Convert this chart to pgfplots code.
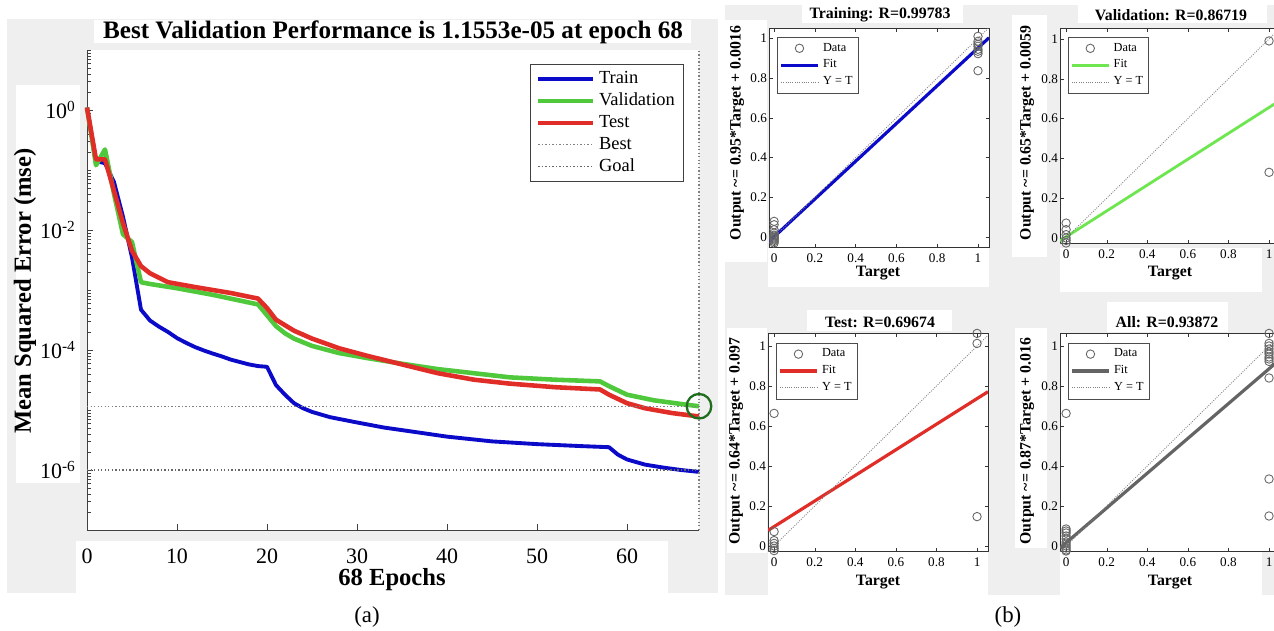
\documentclass[border=0pt]{standalone}
\usepackage{fontspec}
\setmainfont{Liberation Serif}
\usepackage{pgfplots}
\pgfplotsset{compat=1.18}

\definecolor{bgray}{RGB}{239,239,239}
\definecolor{trainblue}{RGB}{10,10,200}
\definecolor{valgreen}{RGB}{80,200,60}
\definecolor{testred}{RGB}{225,45,40}
\definecolor{bestgreen}{RGB}{30,110,30}
\definecolor{fitgreen}{RGB}{110,230,80}
\definecolor{fitgray}{RGB}{100,100,100}

\pgfplotsset{
  regstyle/.style={
    scale only axis, width=4.4cm,
    tick align=inside, major tick length=0.07cm,
    xtick={0,0.2,0.4,0.6,0.8,1}, ytick={0,0.2,0.4,0.6,0.8,1},
    tick label style={font=\fontsize{7.5}{8}\selectfont},
    /pgf/number format/assume math mode=true,
    axis line style={black!80}, tick style={black!80},
    xticklabel style={inner sep=1pt, yshift=-2.5pt},
    yticklabel style={inner sep=1pt},
    axis background/.style={fill=white},
    legend style={font=\fontsize{7}{8}\selectfont, draw=black!70, inner sep=1.2pt,
      row sep=-0.5pt, cells={anchor=west}},
    legend image code/.code={\draw[mark repeat=2,mark phase=2,##1] plot coordinates {(0cm,0cm) (0.37cm,0cm) (0.74cm,0cm)};},
  },
  datapts/.style={only marks, mark=o, mark size=2.4pt, color=black!60, line width=0.5pt},
  yeqt/.style={gray, dash pattern=on 0.5pt off 0.8pt, line width=0.5pt},
}
\tikzset{regtitle/.style={font=\bfseries\fontsize{9}{11}\selectfont}}

\begin{document}
\begin{tikzpicture}
% panel (a) background
\fill[bgray] (0.14,0.74) rectangle (14.36,12.22);
\fill[white] (1.88,11.74) rectangle (13.82,12.2);
\fill[white] (0.32,2.94) rectangle (1.6,10.9);
\fill[white] (1.52,0.74) rectangle (13.36,1.78);
% panel (b) background
\fill[bgray] (14.5,0.7) rectangle (25.48,12.5);
\fill[white] (16.04,12.14) rectangle (19.26,12.5);
\fill[white] (14.5,7.36) rectangle (15.34,12.2);
\fill[white] (15.36,6.86) rectangle (19.78,7.64);
\fill[white] (21.56,12.14) rectangle (25.34,12.5);
\fill[white] (20.24,7.46) rectangle (20.94,12.3);
\fill[white] (21.2,6.76) rectangle (25.24,7.64);
\fill[white] (16.14,5.98) rectangle (19.04,6.4);
\fill[white] (14.54,1.54) rectangle (15.34,6.04);
\fill[white] (15.36,0.7) rectangle (19.76,1.58);
\fill[white] (22.14,5.96) rectangle (24.56,6.56);
\fill[white] (20.3,1.64) rectangle (20.94,6.04);
\fill[white] (21.2,0.7) rectangle (25.24,1.58);

% ---------- (a) performance ----------
\begin{axis}[
  at={(1.74cm,2.0cm)}, anchor=south west,
  scale only axis, width=12.24cm, height=9.6cm,
  xmin=0, xmax=68, ymode=log, ymin=1e-7, ymax=10,
  axis x line=bottom, axis y line=left,
  axis line style={-, black!75}, tick style={black!75},
  axis background/.style={fill=white},
  clip=false,
  tick align=inside, major tick length=0.12cm, minor tick length=0.07cm,
  xtick={0,10,20,30,40,50,60},
  ytick={1e-6,1e-4,1e-2,1},
  yticklabels={{10\textsuperscript{-6}},{10\textsuperscript{-4}},{10\textsuperscript{-2}},{10\textsuperscript{0}}},
  minor ytick={1e-7,2e-7,3e-7,4e-7,5e-7,6e-7,7e-7,8e-7,9e-7,
    2e-6,3e-6,4e-6,5e-6,6e-6,7e-6,8e-6,9e-6,1e-5,2e-5,3e-5,4e-5,5e-5,6e-5,7e-5,8e-5,9e-5,
    2e-4,3e-4,4e-4,5e-4,6e-4,7e-4,8e-4,9e-4,1e-3,2e-3,3e-3,4e-3,5e-3,6e-3,7e-3,8e-3,9e-3,
    2e-2,3e-2,4e-2,5e-2,6e-2,7e-2,8e-2,9e-2,1e-1,2e-1,3e-1,4e-1,5e-1,6e-1,7e-1,8e-1,9e-1,
    2,3,4,5,6,7,8,9,10},
  /pgf/number format/assume math mode=true,
  tick label style={font=\fontsize{12.5}{14}\selectfont},
  xticklabel style={yshift=-0.26cm},
  yticklabel style={xshift=-0.1cm},
  legend style={at={(0.9755,0.971)}, anchor=north east,
    font=\fontsize{10.5}{12}\selectfont, draw=black!75, cells={anchor=west}},
  legend image code/.code={\draw[#1] (0cm,0cm) -- (1.1cm,0cm);},
  every axis plot/.append style={line join=round},
]
\addplot[trainblue, line width=2.2pt] coordinates {
 (0,1.1) (1,0.14) (2,0.13) (3,0.063) (4,0.0166) (5,0.0035) (6,4.7e-4) (7,3.1e-4)
 (8,2.45e-4) (9,2.0e-4) (10,1.58e-4) (11,1.32e-4) (12,1.12e-4) (13,9.8e-5) (14,8.7e-5)
 (15,7.8e-5) (16,6.9e-5) (17,6.3e-5) (18,5.75e-5) (19,5.4e-5) (20,5.25e-5) (21,2.6e-5)
 (22,1.8e-5) (23,1.3e-5) (24,1.07e-5) (25,9.3e-6) (27,7.6e-6) (30,6.2e-6) (33,5.1e-6)
 (36,4.4e-6) (40,3.6e-6) (45,3.0e-6) (50,2.7e-6) (55,2.5e-6) (58,2.4e-6) (59,1.8e-6)
 (60,1.5e-6) (62,1.23e-6) (64,1.1e-6) (66,1.0e-6) (68,9.3e-7)};
\addplot[valgreen, line width=2.6pt] coordinates {
 (0,1.1) (1,0.12) (2,0.22) (3,0.04) (4,0.0085) (5,0.0063) (6,1.35e-3) (7,1.26e-3)
 (10,1.07e-3) (14,8.3e-4) (19,5.75e-4) (20,3.8e-4) (21,2.5e-4) (22,1.9e-4) (23,1.55e-4)
 (25,1.17e-4) (28,8.9e-5) (31,7.4e-5) (35,5.9e-5) (39,4.8e-5) (43,4.1e-5) (47,3.5e-5)
 (52,3.2e-5) (57,3.0e-5) (58,2.5e-5) (60,1.8e-5) (63,1.45e-5) (66,1.26e-5) (68,1.1553e-5)};
\addplot[testred, line width=2.6pt] coordinates {
 (0,1.1) (1,0.15) (2,0.15) (3,0.045) (4,0.013) (5,0.0045) (6,2.5e-3) (7,1.9e-3)
 (9,1.35e-3) (12,1.12e-3) (16,8.9e-4) (19,7.2e-4) (20,5e-4) (21,3.2e-4) (23,2.1e-4)
 (25,1.55e-4) (28,1.07e-4) (31,8.1e-5) (35,5.75e-5) (39,4.1e-5) (43,3.2e-5) (47,2.75e-5)
 (52,2.4e-5) (57,2.2e-5) (58,1.8e-5) (60,1.3e-5) (62,1.07e-5) (65,8.9e-6) (68,7.8e-6)};
\addplot[gray, dash pattern=on 0.8pt off 1.2pt, line width=0.6pt] coordinates {(0,1.1553e-5) (68,1.1553e-5)};
\addplot[black!60, dash pattern=on 0.8pt off 1.2pt, line width=0.6pt] coordinates {(0,1e-6) (68,1e-6)};
\addplot[gray, dash pattern=on 0.8pt off 1.2pt, line width=0.6pt, forget plot] coordinates {(68,1e-7) (68,10)};
\addplot[bestgreen, only marks, mark=o, mark size=7pt, line width=1.3pt, forget plot] coordinates {(68,1.1553e-5)};
\legend{Train,Validation,Test,Best,Goal}
\end{axis}

% ---------- (b) regression: Training ----------
\begin{axis}[regstyle, at={(15.38cm,7.66cm)}, anchor=south west, height=4.38cm,
  xmin=-0.025, xmax=1.054, ymin=-0.05, ymax=1.052,
  legend style={at={(0.036,0.959)}, anchor=north west}]
\addplot[datapts] coordinates {
 (0,-0.03) (0,-0.022) (0,-0.015) (0,-0.01) (0,-0.005) (0,0) (0,0.005) (0,0.01) (0,0.02)
 (0,0.037) (0,0.062) (0,0.079)
 (1,1.01) (1,0.985) (1,0.97) (1,0.96) (1,0.945) (1,0.935) (1,0.923) (1,0.837)};
\addplot[trainblue, line width=1.8pt] coordinates {(-0.025,-0.0222) (1.054,1.0029)};
\addplot[yeqt] coordinates {(-0.1,-0.1) (1.1,1.1)};
\legend{Data,Fit,Y = T}
\end{axis}

% ---------- Validation ----------
\begin{axis}[regstyle, at={(21.2cm,7.74cm)}, anchor=south west, height=4.3cm,
  xmin=-0.03, xmax=1.054, ymin=-0.025, ymax=1.055,
  legend style={at={(0.036,0.958)}, anchor=north west}]
\addplot[datapts] coordinates {
 (0,0.075) (0,0.042) (0,0.017) (0,0) (0,-0.012) (0,-0.025) (1,0.99) (1,0.33)};
\addplot[fitgreen, line width=1.6pt] coordinates {(-0.03,-0.0136) (1.054,0.691)};
\addplot[yeqt] coordinates {(-0.1,-0.1) (1.1,1.1)};
\legend{Data,Fit,Y = T}
\end{axis}

% ---------- Test ----------
\begin{axis}[regstyle, at={(15.36cm,1.58cm)}, anchor=south west, height=4.36cm,
  xmin=-0.03, xmax=1.054, ymin=-0.025, ymax=1.065,
  legend style={at={(0.036,0.955)}, anchor=north west}]
\addplot[datapts] coordinates {
 (0,0.663) (0,0.072) (0,0.027) (0,0.013) (0,0) (0,-0.012) (0,-0.023)
 (1,1.063) (1,1.013) (1,0.147)};
\addplot[testred, line width=1.8pt] coordinates {(-0.03,0.0778) (1.054,0.7716)};
\addplot[yeqt] coordinates {(-0.1,-0.1) (1.1,1.1)};
\legend{Data,Fit,Y = T}
\end{axis}

% ---------- All ----------
\begin{axis}[regstyle, at={(21.2cm,1.58cm)}, anchor=south west, height=4.36cm,
  xmin=-0.03, xmax=1.054, ymin=-0.025, ymax=1.065,
  legend style={at={(0.036,0.955)}, anchor=north west}]
\addplot[datapts] coordinates {
 (0,0.663) (0,0.085) (0,0.075) (0,0.065) (0,0.05) (0,0.035) (0,0.02) (0,0.01) (0,0)
 (0,-0.01) (0,-0.02) (0,-0.025)
 (1,1.063) (1,1.013) (1,1.0) (1,0.985) (1,0.97) (1,0.96) (1,0.945) (1,0.935) (1,0.923)
 (1,0.84) (1,0.335) (1,0.15)};
\addplot[fitgray, line width=1.8pt] coordinates {(-0.03,-0.0101) (1.054,0.933)};
\addplot[yeqt] coordinates {(-0.1,-0.1) (1.1,1.1)};
\legend{Data,Fit,Y = T}
\end{axis}

% ---------- text ----------
\node[font=\bfseries\fontsize{14.3}{16}\selectfont] at (7.86,11.96) {Best Validation Performance is 1.1553e-05 at epoch 68};
\node[font=\bfseries\fontsize{14}{16}\selectfont, rotate=90] at (0.5,6.78) {Mean Squared Error (mse)};
\node[font=\bfseries\fontsize{14}{16}\selectfont] at (7.84,1.0) {68 Epochs};
\node[font=\fontsize{13}{15}\selectfont] at (7.34,0.26) {(a)};
\node[font=\fontsize{13}{15}\selectfont] at (20.16,0.26) {(b)};

\node[regtitle] at (17.6,12.3) {Training: R=0.99783};
\node[regtitle, rotate=90] at (14.74,9.94) {Output \textasciitilde= 0.95*Target + 0.0016};
\node[regtitle] at (17.56,7.14) {Target};

\node[regtitle] at (23.42,12.3) {Validation: R=0.86719};
\node[regtitle, rotate=90] at (20.54,9.94) {Output \textasciitilde= 0.65*Target + 0.0059};
\node[regtitle] at (23.4,7.14) {Target};

\node[regtitle] at (17.6,6.16) {Test: R=0.69674};
\node[regtitle, rotate=90] at (14.72,3.78) {Output \textasciitilde= 0.64*Target + 0.097};
\node[regtitle] at (17.56,0.96) {Target};

\node[regtitle] at (23.34,6.16) {All: R=0.93872};
\node[regtitle, rotate=90] at (20.54,3.78) {Output \textasciitilde= 0.87*Target + 0.016};
\node[regtitle] at (23.4,0.96) {Target};

\pgfresetboundingbox
\useasboundingbox (0,0) rectangle (25.48,12.6);
\end{tikzpicture}
\end{document}
